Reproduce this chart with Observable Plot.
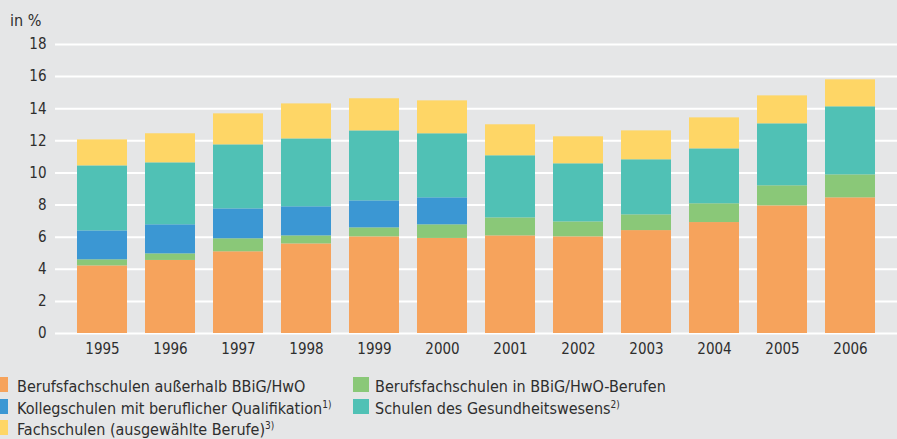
<!DOCTYPE html>
<html>
<head>
<meta charset="utf-8">
<script src="https://cdn.jsdelivr.net/npm/d3@7"></script>
<script src="https://cdn.jsdelivr.net/npm/@observablehq/plot@0.6"></script>
<style>
  html, body { margin: 0; padding: 0; background: #E5E6E7; }
  #wrap { position: relative; width: 897px; height: 439px; overflow: hidden; background: #E5E6E7;
          font-family: "DejaVu Sans Condensed", "DejaVu Sans", sans-serif; font-stretch: condensed; color: #2e2e2e; }
  #unit { position: absolute; left: 10px; top: 13px; font-size: 16px; line-height: 16px; }
  #chart { position: absolute; left: 0; top: 0; }
  .lg { position: absolute; font-size: 16px; line-height: 15px; white-space: nowrap; }
  .sw { position: absolute; width: 16px; height: 15px; }
  .lg sup { font-size: 10px; vertical-align: 0; position: relative; top: -6px; }
</style>
</head>
<body>
<div id="wrap">
  <div id="chart"></div>
  <div id="unit">in %</div>
  <div id="legend"></div>
</div>
<script>
const years = ["1995","1996","1997","1998","1999","2000","2001","2002","2003","2004","2005","2006"];
const seriesNames = [
  "Berufsfachschulen außerhalb BBiG/HwO",
  "Berufsfachschulen in BBiG/HwO-Berufen",
  "Kollegschulen mit beruflicher Qualifikation",
  "Schulen des Gesundheitswesens",
  "Fachschulen (ausgewählte Berufe)"
];
const footnotes = ["", "", "1)", "2)", "3)"];
const colors = ["#F6A35C", "#8AC878", "#3B97D3", "#50C1B5", "#FED666"];

const berufsfachAusserhalb = [4.21, 4.55, 5.09, 5.58, 6.02, 5.92, 6.08, 6.02, 6.41, 6.91, 7.95, 8.45];
const berufsfachIn         = [0.38, 0.41, 0.81, 0.50, 0.56, 0.85, 1.12, 0.93, 0.98, 1.17, 1.25, 1.43];
const kollegschulen        = [1.80, 1.81, 1.86, 1.81, 1.68, 1.68, 0, 0, 0, 0, 0, 0];
const gesundheit           = [4.05, 3.86, 3.99, 4.23, 4.36, 3.99, 3.87, 3.62, 3.43, 3.42, 3.86, 4.24];
const fachschulen          = [1.62, 1.81, 1.93, 2.18, 2.00, 2.05, 1.93, 1.68, 1.80, 1.93, 1.74, 1.68];

const yTicks = [0, 2, 4, 6, 8, 10, 12, 14, 16, 18];

const seriesValues = [berufsfachAusserhalb, berufsfachIn, kollegschulen, gesundheit, fachschulen];
const table = [];
seriesNames.forEach((s, si) => {
  years.forEach((yr, yi) => {
    table.push({year: yr, series: s, value: seriesValues[si][yi]});
  });
});

const chart = Plot.plot({
  width: 897,
  height: 365,
  marginTop: 44,
  marginBottom: 32,
  marginLeft: 55,
  marginRight: 0,
  style: {background: "transparent", color: "#2e2e2e", fontFamily: '"DejaVu Sans Condensed", "DejaVu Sans", sans-serif', fontSize: "15px"},
  x: {domain: years, paddingInner: 0.2686, paddingOuter: 0.293, label: null},
  y: {domain: [0, 18], label: null},
  color: {domain: seriesNames, range: colors},
  marks: [
    Plot.gridY(yTicks, {stroke: "#ffffff", strokeOpacity: 1, strokeWidth: 2}),
    Plot.barY(table, Plot.stackY({x: "year", y: "value", fill: "series", order: seriesNames})),
    Plot.axisY(yTicks, {tickSize: 0, tickPadding: 9, fontSize: 15, label: null}),
    Plot.axisX({tickSize: 0, tickPadding: 10, fontSize: 15, label: null})
  ]
});
document.getElementById("chart").appendChild(chart);

// legend
const legend = document.getElementById("legend");
const pos = [
  {sx: -8, tx: 17, top: 377},
  {sx: 353, tx: 375, top: 377},
  {sx: -8, tx: 17, top: 399},
  {sx: 353, tx: 375, top: 399},
  {sx: -8, tx: 17, top: 420}
];
seriesNames.forEach((s, i) => {
  const p = pos[i];
  const sw = document.createElement("div");
  sw.className = "sw";
  sw.style.left = p.sx + "px";
  sw.style.top = p.top + "px";
  sw.style.background = colors[i];
  legend.appendChild(sw);
  const t = document.createElement("div");
  t.className = "lg";
  t.style.left = p.tx + "px";
  t.style.top = (p.top + 2) + "px";
  t.textContent = s;
  if (footnotes[i]) {
    const sup = document.createElement("sup");
    sup.textContent = footnotes[i];
    t.appendChild(sup);
  }
  legend.appendChild(t);
});
</script>
</body>
</html>
